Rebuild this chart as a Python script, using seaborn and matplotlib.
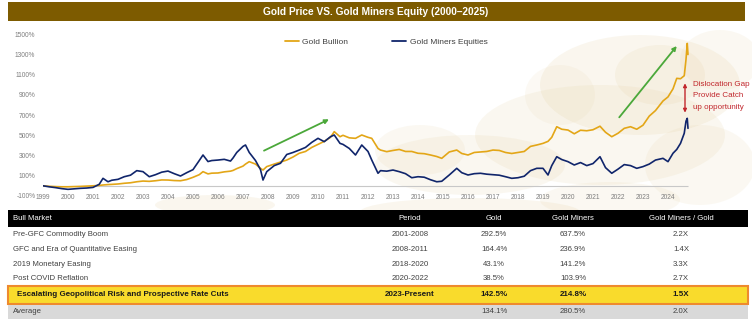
import numpy as np
import pandas as pd
import matplotlib
matplotlib.use("Agg")
import matplotlib.pyplot as plt
import seaborn as sns
from matplotlib.patches import Rectangle, Ellipse
from matplotlib.lines import Line2D

# ---------------------------------------------------------------- data
# years elapsed since the start of 2000
years_elapsed = [
    0.0, 0.25, 0.5, 0.75, 1.0, 1.25, 1.5, 1.75, 2.0, 2.25, 2.4, 2.6, 2.75,
    3.0, 3.25, 3.5, 3.75, 4.0, 4.25, 4.5, 4.75, 5.0, 5.25, 5.5, 5.75,
    6.0, 6.25, 6.4, 6.6, 6.75, 7.0, 7.25, 7.5, 7.6, 7.75, 8.0, 8.1, 8.25,
    8.5, 8.7, 8.8, 8.95, 9.25, 9.5, 9.75, 10.0, 10.25, 10.5, 10.75, 11.0,
    11.25, 11.5, 11.65, 11.88, 12.0, 12.25, 12.5, 12.75, 13.0, 13.15, 13.4,
    13.5, 13.75, 14.0, 14.25, 14.5, 14.75, 15.0, 15.25, 15.5, 15.75, 15.95,
    16.25, 16.55, 16.75, 17.0, 17.25, 17.5, 17.75, 18.0, 18.25, 18.5, 18.75,
    19.0, 19.25, 19.5, 19.75, 20.0, 20.2, 20.35, 20.55, 20.75, 21.0, 21.25,
    21.5, 21.75, 22.0, 22.28, 22.5, 22.75, 23.0, 23.25, 23.5, 23.75, 24.0,
    24.25, 24.5, 24.8, 25.0, 25.2, 25.35, 25.5, 25.65, 25.72, 25.77, 25.8,
]

# cumulative return, %
gold_bullion = [
    0, -5, -8, -10, -10, -8, -6, -3, 0, 4, 8, 12, 14,
    18, 25, 30, 40, 47, 44, 50, 58, 57, 52, 50, 62,
    84, 110, 140, 118, 125, 127, 138, 145, 152, 170, 195, 215, 239,
    215, 173, 156, 190, 215, 235, 255, 285, 322, 340, 380, 410,
    440, 480, 536, 486, 500, 475, 470, 503, 480, 470, 370,
    354, 338, 350, 360, 340, 340, 322, 318, 305, 290, 272,
    335, 354, 320, 305, 330, 335, 340, 354, 350, 330, 320,
    330, 340, 390, 404, 420, 440, 480, 585, 560, 552, 515,
    550, 545, 555, 590, 530, 486, 520, 569, 585, 560, 600,
    690, 745, 840, 880, 960, 1064, 1060, 1090, 1250, 1410, 1300,
]

gold_miners = [
    0, -10, -18, -28, -35, -30, -25, -22, -16, 15, 74, 40, 55,
    64, 90, 105, 150, 140, 90, 110, 135, 146, 120, 97, 130,
    160, 250, 305, 240, 250, 255, 262, 245, 275, 330, 390, 404, 330,
    250, 160, 57, 140, 200, 223, 310, 330, 354, 380, 430, 470,
    437, 486, 503, 420, 410, 370, 305, 404, 340, 255, 124,
    150, 145, 156, 140, 120, 80, 90, 85, 60, 40, 45,
    107, 173, 130, 107, 120, 124, 115, 110, 105, 90, 74,
    80, 95, 150, 173, 173, 107, 200, 288, 260, 239, 206,
    230, 200, 220, 288, 180, 124, 165, 210, 200, 173, 190,
    215, 255, 272, 239, 322, 360, 420, 520, 640, 668, 569,
]

series_names = ["Gold Bullion", "Gold Miners Equities"]
year_labels = [str(y) for y in range(1999, 2025)]
y_ticks = list(range(-100, 1501, 200))

table_columns = ["Bull Market", "Period", "Gold", "Gold Miners", "Gold Miners / Gold"]
bull_markets = [
    "Pre-GFC Commodity Boom",
    "GFC and Era of Quantitative Easing",
    "2019 Monetary Easing",
    "Post COVID Reflation",
]
periods = ["2001-2008", "2008-2011", "2018-2020", "2020-2022"]
gold_returns = ["292.5%", "164.4%", "43.1%", "38.5%"]
miner_returns = ["637.5%", "236.9%", "141.2%", "103.9%"]
miner_gold_ratio = ["2.2X", "1.4X", "3.3X", "2.7X"]
current_market = ["Escalating Geopolitical Risk and Prospective Rate Cuts",
                  "2023-Present", "142.5%", "214.8%", "1.5X"]
average_row = ["Average", "", "134.1%", "280.5%", "2.0X"]

# ---------------------------------------------------------------- style
GOLD = "#E3A617"
NAVY = "#10256B"
GREEN = "#4BA83A"
RED = "#C1272D"
TEXT = "#404040"

sns.set_theme(style="white")
plt.rcParams["font.family"] = ["Liberation Sans", "DejaVu Sans"]

W, H = 752, 322
fig = plt.figure(figsize=(W / 100, H / 100), dpi=100)
fig.patch.set_facecolor("white")


def fx(px):
    return px / W


def fy(py):
    return 1 - py / H


# faint beige map-like texture in the background
blobs = [
    (640, 85, 200, 100, 0.16), (600, 135, 250, 100, 0.14),
    (470, 165, 190, 60, 0.14), (700, 165, 110, 80, 0.12),
    (720, 60, 80, 60, 0.12), (660, 75, 90, 60, 0.14),
    (420, 150, 90, 50, 0.12), (215, 205, 120, 20, 0.16),
    (470, 212, 220, 28, 0.16), (610, 200, 140, 36, 0.12),
    (560, 95, 70, 60, 0.10),
]
for cx, cy, w, h, a in blobs:
    fig.patches.append(Ellipse((fx(cx), fy(cy)), w / W, h / H,
                               transform=fig.transFigure, facecolor="#E2CC9A",
                               edgecolor="none", alpha=a, zorder=-5))

# title banner
fig.patches.append(Rectangle((fx(8), fy(21)), fx(737), 19 / H,
                             transform=fig.transFigure, facecolor="#7D5B00",
                             edgecolor="none", zorder=1))
fig.text(fx(376), fy(12), "Gold Price VS. Gold Miners Equity (2000\u20132025)",
         color="white", fontsize=7.3, fontweight="bold", ha="center", va="center",
         zorder=2)

# ---------------------------------------------------------------- chart
y_top, y_bottom = 34.3, 195.9
ax = fig.add_axes([fx(43), fy(y_bottom), 650 / W, (y_bottom - y_top) / H])
ax.set_facecolor("none")
ax.set_zorder(3)

df = pd.DataFrame({
    "t": years_elapsed * 2,
    "value": gold_bullion + gold_miners,
    "series": [series_names[0]] * len(years_elapsed)
    + [series_names[1]] * len(years_elapsed),
})
sns.lineplot(data=df, x="t", y="value", hue="series", estimator=None,
             palette=[GOLD, NAVY], linewidth=1.2, ax=ax, legend=False, zorder=3)

ax.hlines(0, years_elapsed[0], years_elapsed[-1], color="#C8C8C8", lw=0.8, zorder=2)

ax.set_xlim(0, 26)
ax.set_ylim(y_ticks[0], y_ticks[-1])
ax.set_xticks(range(len(year_labels)))
ax.set_xticklabels(year_labels)
ax.set_yticks(y_ticks)
ax.set_yticklabels([f"{v}%" for v in y_ticks])
ax.tick_params(axis="x", length=0, pad=-1.5, labelsize=4.8, labelcolor="#7F7F7F")
ax.tick_params(axis="y", length=0, pad=5.5, labelsize=4.8, labelcolor="#7F7F7F")
ax.set_xlabel("")
ax.set_ylabel("")
for s in ax.spines.values():
    s.set_visible(False)
ax.grid(False)

# trend arrows
arrow_kw = dict(arrowstyle="-|>", color=GREEN, lw=1.3, mutation_scale=6,
                shrinkA=0, shrinkB=0)
ax.annotate("", xy=(11.44, 658), xytext=(8.84, 348), arrowprops=arrow_kw)
ax.annotate("", xy=(25.35, 1384), xytext=(23.05, 678), arrowprops=arrow_kw)

# dislocation gap marker
ax.annotate("", xy=(25.68, 1015), xytext=(25.68, 724),
            arrowprops=dict(arrowstyle="<|-|>", color=RED, lw=1.0,
                            mutation_scale=5, shrinkA=0, shrinkB=0),
            annotation_clip=False)
for i, line in enumerate(["Dislocation Gap", "Provide Catch", "up opportunity"]):
    fig.text(fx(693), fy(84.3 + 11.5 * i), line, color=RED, fontsize=5.8,
             ha="left", va="center", zorder=4)

# legend
handles = [Line2D([], [], color=GOLD, lw=1.3), Line2D([], [], color=NAVY, lw=1.3)]
fig.legend(handles, series_names, loc="center", ncol=2, frameon=False,
           bbox_to_anchor=(fx(386), fy(41.7)), fontsize=6, labelcolor=TEXT,
           handlelength=1.7, handletextpad=0.4, columnspacing=5.3, borderpad=0)

# ---------------------------------------------------------------- table
col_x = [13, 410, 494, 573, 681]
col_ha = ["left", "center", "center", "center", "center"]

fig.patches.append(Rectangle((fx(8), fy(227)), 740 / W, 17 / H,
                             transform=fig.transFigure, facecolor="black",
                             edgecolor="none", zorder=1))
for x, ha, label in zip(col_x, col_ha, table_columns):
    fig.text(fx(x), fy(219), label, color="white", fontsize=5.6,
             ha=ha, va="center", zorder=2)

body_rows = list(zip(bull_markets, periods, gold_returns, miner_returns,
                     miner_gold_ratio))
for r, row in enumerate(body_rows):
    yc = 235 + 14.5 * r
    for x, ha, val in zip(col_x, col_ha, row):
        fig.text(fx(x), fy(yc), val, color=TEXT, fontsize=5.6, ha=ha,
                 va="center", zorder=2)

# highlighted current cycle
fig.patches.append(Rectangle((fx(8), fy(304)), 740 / W, 18 / H,
                             transform=fig.transFigure, facecolor="#F9DB2C",
                             edgecolor="#EE8A2E", lw=1.5, zorder=1))
hl_x = [17] + col_x[1:]
for x, ha, val in zip(hl_x, col_ha, current_market):
    fig.text(fx(x), fy(295), val, color="#1A1A1A", fontsize=5.8,
             fontweight="bold", ha=ha, va="center", zorder=2)

# average row
fig.patches.append(Rectangle((fx(8), fy(318.5)), 740 / W, 13.5 / H,
                             transform=fig.transFigure, facecolor="#D9D9D9",
                             edgecolor="none", zorder=1))
for x, ha, val in zip(col_x, col_ha, average_row):
    if val:
        fig.text(fx(x), fy(311.7), val, color=TEXT, fontsize=5.6,
                 ha=ha, va="center", zorder=2)

fig.savefig("out.png", dpi=100, facecolor="white")
